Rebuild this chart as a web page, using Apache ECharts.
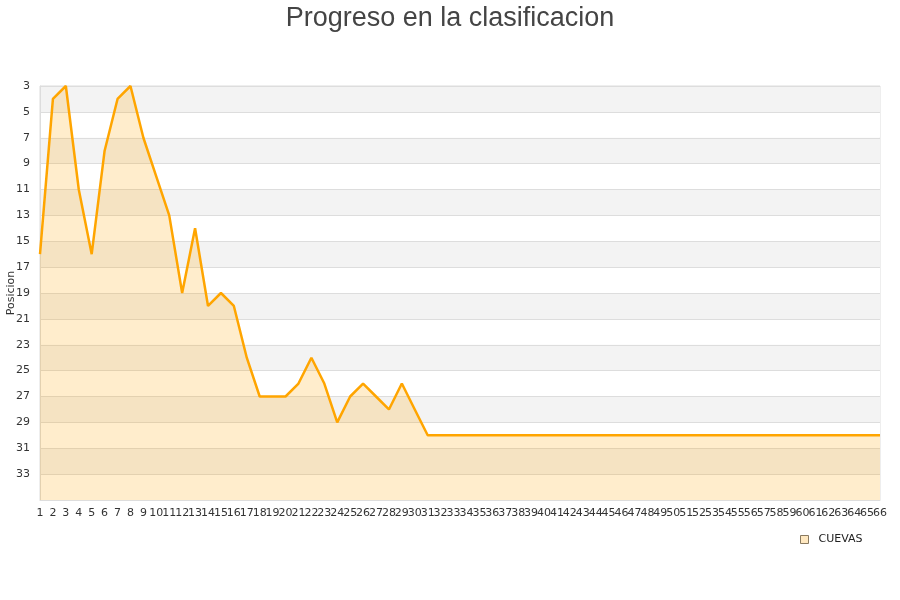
<!DOCTYPE html>
<html>
<head>
<meta charset="utf-8">
<script src="https://cdn.jsdelivr.net/npm/echarts@6/dist/echarts.min.js"></script>
<style>
  html, body { margin: 0; padding: 0; background: #fff; }
  #chart { width: 900px; height: 600px; }
</style>
</head>
<body>
<div id="chart"></div>
<script>
// datos: jornadas y posicion en la clasificacion
const jornadas = [];
for (let j = 1; j <= 66; j++) jornadas.push(String(j));

const posiciones = [
  16, 4, 3, 11, 16, 8, 4, 3, 7, 10,
  13, 19, 14, 20, 19, 20, 24, 27, 27, 27,
  26, 24, 26, 29, 27, 26, 27, 28, 26, 28,
  30, 30, 30, 30, 30, 30, 30, 30, 30, 30,
  30, 30, 30, 30, 30, 30, 30, 30, 30, 30,
  30, 30, 30, 30, 30, 30, 30, 30, 30, 30,
  30, 30, 30, 30, 30, 30
];

const serieNombre = 'CUEVAS';
const tituloTexto = 'Progreso en la clasificacion';

const chart = echarts.init(document.getElementById('chart'));

const option = {
  animation: false,
  title: {
    text: tituloTexto,
    left: 'center',
    top: 0,
    textStyle: {
      fontFamily: 'Liberation Sans',
      fontSize: 27,
      fontWeight: 'normal',
      color: '#444'
    }
  },
  legend: {
    data: [{
      name: serieNombre,
      icon: 'rect',
      itemStyle: { color: '#ffe8c0', borderColor: '#8a7a60', borderWidth: 1 }
    }],
    left: 795,
    top: 529,
    itemWidth: 8,
    itemHeight: 8,
    itemGap: 10,
    textStyle: { fontFamily: 'DejaVu Sans', fontSize: 11, color: '#222', padding: [0, 0, 0, 5] }
  },
  grid: {
    left: 40,
    right: 20,
    top: 86,
    bottom: 100,
    outerBoundsMode: 'none',
    containLabel: false,
    show: true,
    borderColor: '#ddd',
    borderWidth: 1
  },
  xAxis: {
    type: 'category',
    data: jornadas,
    boundaryGap: false,
    axisLine: { show: true, lineStyle: { color: '#ddd' } },
    axisTick: { show: false },
    axisLabel: {
      interval: 0,
      margin: 8,
      fontFamily: 'DejaVu Sans',
      fontSize: 11,
      color: '#333'
    },
    splitLine: { show: false }
  },
  yAxis: {
    type: 'value',
    inverse: true,
    min: 3,
    max: 35,
    interval: 2,
    name: 'Posicion',
    nameLocation: 'middle',
    nameGap: 23,
    nameMoveOverlap: false,
    nameTextStyle: { fontFamily: 'DejaVu Sans', fontSize: 11, color: '#333' },
    axisLine: { show: true, lineStyle: { color: '#ddd' } },
    axisTick: { show: false },
    axisLabel: {
      showMaxLabel: false,
      margin: 10,
      fontFamily: 'DejaVu Sans',
      fontSize: 11,
      color: '#333'
    },
    splitLine: { show: true, lineStyle: { color: '#ddd' } },
    splitArea: { show: true, areaStyle: { color: ['#f3f3f3', '#ffffff'] } }
  },
  series: [{
    name: serieNombre,
    type: 'line',
    data: posiciones,
    showSymbol: false,
    symbol: 'none',
    lineStyle: { color: '#ffa500', width: 2.5 },
    itemStyle: { color: '#ffa500' },
    areaStyle: { color: '#ffa500', opacity: 0.2, origin: 'end' }
  }]
};

chart.setOption(option);
window.addEventListener('resize', () => chart.resize());
</script>
</body>
</html>
